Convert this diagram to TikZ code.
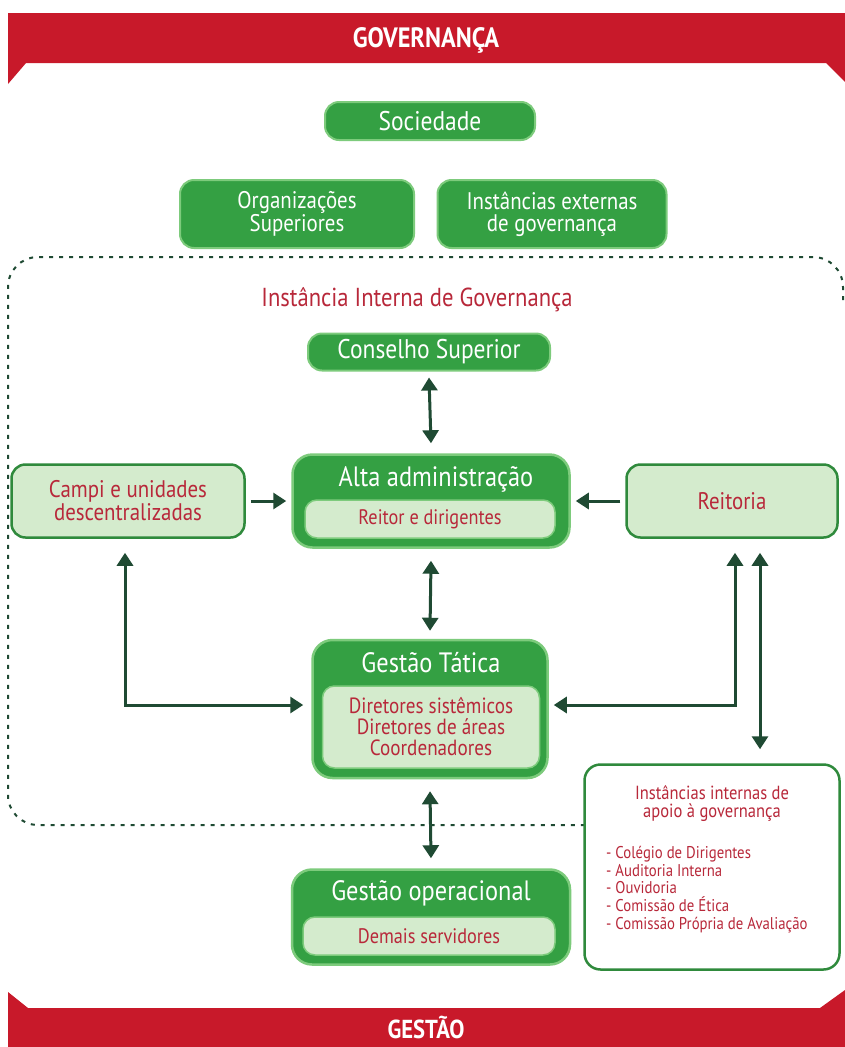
\documentclass[tikz,border=0pt]{standalone}
\usepackage{fontspec}
\setmainfont{PT Sans}[FakeStretch=0.87]
\usetikzlibrary{arrows.meta,positioning}
\definecolor{verde}{HTML}{34A043}
\definecolor{verdeborda}{HTML}{7DCB7C}
\definecolor{verdeclaro}{HTML}{D4EBCD}
\definecolor{verdeescuro}{HTML}{2F8A3C}
\definecolor{vermelho}{HTML}{C8192A}
\definecolor{texto}{HTML}{B8283A}
\definecolor{escuro}{HTML}{1F4A33}
\begin{document}
\begin{tikzpicture}[x=1pt,y=-1pt,
	caixa/.style={fill=verde,draw=verdeborda,line width=2pt,rounded corners=14pt,text=white,align=center,inner sep=0pt},
	clara/.style={fill=verdeclaro,draw=verdeescuro,line width=2.5pt,rounded corners=14pt,text=texto,align=center,inner sep=0pt},
	interna/.style={fill=verdeclaro,draw=verdeborda,line width=1.5pt,rounded corners=12pt,text=texto,align=center,inner sep=0pt},
	seta/.style={draw=escuro,line width=3pt,{Triangle[width=16pt,length=13pt]}-{Triangle[width=16pt,length=13pt]}},
	setaum/.style={draw=escuro,line width=3pt,-{Triangle[width=16pt,length=13pt]}},
	every node/.style={align=center}]
	\fill[white] (0,0) rectangle (845,1047);
	\useasboundingbox (0,0) rectangle (845,1047);
	% faixas
	\fill[vermelho] (8,13) -- (845,13) -- (845,82) -- (826,63) -- (26,63) -- (8,84) -- cycle;
	\node[text=white,font=\bfseries\fontsize{28}{30}\selectfont] (gov) at (426,40) {GOVERNANÇA};
	\fill[vermelho] (8,992) -- (28,1008) -- (820,1008) -- (845,990) -- (845,1047) -- (8,1047) -- cycle;
	\node[text=white,font=\bfseries\fontsize{26}{28}\selectfont] (ges) at (426,1027) {GESTÃO};
	% instancia interna
	\draw[escuro,line width=2pt,dash pattern=on 4pt off 6pt,rounded corners=30pt] (843,300) -- (843,257) -- (8,257) -- (8,825) -- (585,825);
	\node[text=texto,font=\fontsize{26}{28}\selectfont] (iig) at (417,300) {Instância Interna de Governança};
	% caixas externas
	\node[caixa,minimum width=210pt,minimum height=38pt,font=\fontsize{27}{28}\selectfont] (soc) at (430,121) {Sociedade};
	\node[caixa,minimum width=234pt,minimum height=68pt,font=\fontsize{24}{22}\selectfont] (org) at (297,214) {Organizações\\Superiores};
	\node[caixa,minimum width=229pt,minimum height=68pt,font=\fontsize{24}{22}\selectfont] (ext) at (552,214) {Instâncias externas\\de governança};
	\node[caixa,minimum width=242pt,minimum height=37pt,font=\fontsize{27}{28}\selectfont] (cons) at (429,352) {Conselho Superior};
	% alta administracao
	\node[caixa,minimum width=277pt,minimum height=93pt,line width=2.5pt,rounded corners=20pt] (alta) at (431,501) {};
	\node[text=white,font=\fontsize{28}{30}\selectfont] (altat) at (436,479) {Alta administração};
	\node[interna,minimum width=250pt,minimum height=38pt,font=\fontsize{21}{22}\selectfont] (reitor) at (430,519) {Reitor e dirigentes};
	\node[clara,minimum width=233pt,minimum height=73pt,font=\fontsize{24}{23}\selectfont] (campi) at (128,501) {Campi e unidades\\descentralizadas};
	\node[clara,minimum width=211pt,minimum height=73pt,font=\fontsize{24}{23}\selectfont] (reit) at (732,501) {Reitoria};
	% gestao tatica
	\node[caixa,minimum width=235pt,minimum height=138pt,line width=2.5pt,rounded corners=20pt] (tat) at (430,709) {};
	\node[text=white,font=\fontsize{28}{30}\selectfont] (tatt) at (431,663) {Gestão Tática};
	\node[interna,minimum width=217pt,minimum height=82pt,font=\fontsize{22}{21}\selectfont] (dir) at (431,727) {Diretores sistêmicos\\Diretores de áreas\\Coordenadores};
	% gestao operacional
	\node[caixa,minimum width=278pt,minimum height=95pt,line width=2.5pt,rounded corners=20pt] (oper) at (431,917) {};
	\node[text=white,font=\fontsize{28}{30}\selectfont] (opert) at (431,893) {Gestão operacional};
	\node[interna,minimum width=252pt,minimum height=38pt,font=\fontsize{21}{22}\selectfont] (dem) at (429,936) {Demais servidores};
	% apoio
	\node[draw=verdeescuro,fill=white,line width=2.5pt,rounded corners=16pt,minimum width=255pt,minimum height=205pt] (apoio) at (712,867) {};
	\node[text=texto,font=\fontsize{19}{18}\selectfont] (apoiot) at (712,804) {Instâncias internas de\\apoio à governança};
	\node[text=texto,font=\fontsize{17}{17.75}\selectfont,align=left,anchor=north west,inner sep=0pt] (lista) at (606,846) {- Colégio de Dirigentes\\- Auditoria Interna\\- Ouvidoria\\- Comissão de Ética\\- Comissão Própria de Avaliação};
	% setas
	\coordinate (c1) at (125,705);
	\coordinate (c2) at (735,705);
	\draw[seta] ([yshift=-6pt]cons.south) -- ([yshift=10pt]alta.north);
	\draw[seta] ([yshift=-12pt]alta.south) -- ([yshift=8pt]tat.north);
	\draw[seta] ([yshift=-12pt]tat.south) -- ([yshift=10pt]oper.north);
	\draw[setaum] ([xshift=5pt]campi.east) -- ([xshift=-5pt]alta.west);
	\draw[setaum] ([xshift=-5pt]reit.west) -- ([xshift=5pt]alta.east);
	\draw[seta] ([yshift=-14pt]campi.south -| c1) -- (c1) -- ([xshift=-8pt]tat.west |- c1);
	\draw[seta] ([yshift=-14pt]reit.south -| c2) -- (c2) -- ([xshift=5pt]tat.east |- c2);
	\draw[seta] ([xshift=25pt,yshift=-14pt]reit.south -| c2) -- ([xshift=25pt,yshift=14pt]apoio.north -| c2);
\end{tikzpicture}
\end{document}
